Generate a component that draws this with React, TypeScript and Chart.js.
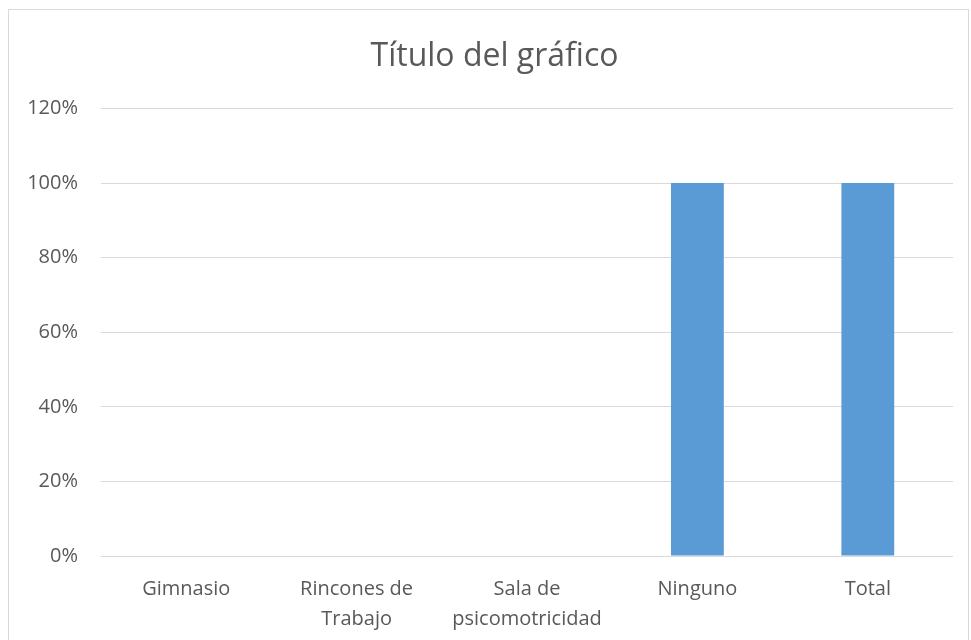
import React, { useEffect, useRef } from "react";
import { Chart, registerables } from "chart.js";

Chart.register(...registerables);

const categories: (string | string[])[] = [
  "Gimnasio",
  ["Rincones de", "Trabajo"],
  ["Sala de", "psicomotricidad"],
  "Ninguno",
  "Total",
];
const values: number[] = [0, 0, 0, 1, 1];
const yTicks: number[] = [0, 0.2, 0.4, 0.6, 0.8, 1, 1.2];
const titleText = "Título del gráfico";

const titleShift = {
  id: "titleShift",
  afterLayout(chart: any) {
    const t = chart.titleBlock;
    if (t) {
      t.left += 13.5;
      t.right += 13.5;
    }
  },
};

export default function App() {
  const ref = useRef<HTMLCanvasElement | null>(null);
  useEffect(() => {
    if (!ref.current) return;
    const font = "'Open Sans', 'DejaVu Sans', sans-serif";
    const chart = new Chart(ref.current, {
      type: "bar",
      data: {
        labels: categories,
        datasets: [
          {
            data: values,
            backgroundColor: "#5B9BD5",
            borderWidth: 0,
            categoryPercentage: 1,
            barPercentage: 0.31,
          },
        ],
      },
      options: {
        animation: false,
        responsive: false,
        maintainAspectRatio: false,
        layout: { padding: { left: 0, right: 15, top: 0, bottom: 0 } },
        plugins: {
          legend: { display: false },
          tooltip: { enabled: false },
          title: {
            display: true,
            text: titleText,
            color: "#595959",
            font: { family: font, size: 32, weight: "normal", lineHeight: 1.2 },
            padding: { top: 28, bottom: 32 },
          },
        },
        scales: {
          x: {
            grid: { display: false, drawTicks: false },
            border: { display: false },
            ticks: {
              color: "#595959",
              font: { family: font, size: 20, lineHeight: 1.5 },
              padding: 18,
              maxRotation: 0,
              autoSkip: false,
            },
            afterFit: (s: any) => {
              s.height = 84;
            },
          },
          y: {
            min: 0,
            max: 1.2,
            afterBuildTicks: (s: any) => {
              s.ticks = yTicks.map((v) => ({ value: v }));
            },
            grid: { color: "#D9D9D9", lineWidth: 1, drawTicks: false },
            border: { display: false },
            ticks: {
              color: "#595959",
              font: { family: font, size: 20 },
              padding: 23,
              callback: (v: any) => Math.round(Number(v) * 100) + "%",
            },
            afterFit: (s: any) => {
              s.width = 92;
            },
          },
        },
      },
      plugins: [titleShift],
    });
    return () => chart.destroy();
  }, []);
  return (
    <div
      style={{
        position: "fixed",
        left: 8,
        top: 9,
        width: 959,
        height: 640,
        border: "1px solid #D9D9D9",
        background: "#fff",
      }}
    >
      <canvas ref={ref} width={959} height={630} style={{ display: "block" }} />
    </div>
  );
}
